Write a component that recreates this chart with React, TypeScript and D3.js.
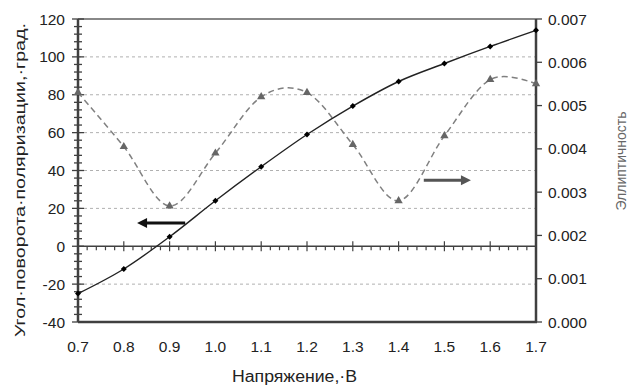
import { useEffect, useRef } from 'react';
import * as d3 from 'd3';

// напряжение, В
const voltage = [0.7, 0.8, 0.9, 1.0, 1.1, 1.2, 1.3, 1.4, 1.5, 1.6, 1.7];
// угол поворота поляризации, град.
const rotation = [-25, -12, 5, 24, 42, 59, 74, 87, 96.5, 105.5, 114];
// эллиптичность
const ellipticity = [0.0053, 0.00405, 0.00268, 0.0039, 0.0052, 0.0053, 0.0041, 0.0028, 0.0043, 0.0056, 0.0055];

const leftTicks = [-40, -20, 0, 20, 40, 60, 80, 100, 120];
const rightTicks = [0, 0.001, 0.002, 0.003, 0.004, 0.005, 0.006, 0.007];
const gridValues = [100, 80, 60, 40, 20, -20];

// arrows: [x from, x to, y on left scale]
const leftArrow = [0.934, 0.829, 12.3];
const rightArrow = [1.455, 1.558, 34.8];

const W = 631;
const H = 387;

function App() {
    const svgRef = useRef<SVGSVGElement>(null);

    useEffect(() => {
        const svg = d3.select(svgRef.current);
        svg.selectAll('*').remove();

        const plot = { left: 78, right: 536, top: 19, bottom: 322 };
        const axisColor = '#404040';
        const font = 'Liberation Sans, Arial, sans-serif';
        const tickSize = 15.5;

        const x = d3.scaleLinear().domain([0.7, 1.7]).range([plot.left, plot.right]);
        const yL = d3.scaleLinear().domain([-40, 120]).range([plot.bottom, plot.top]);
        const yR = d3.scaleLinear().domain([0, 0.007]).range([plot.bottom, plot.top]);

        // grid
        svg.append('g').selectAll('line')
            .data(gridValues)
            .join('line')
            .attr('x1', plot.left).attr('x2', plot.right)
            .attr('y1', d => yL(d)).attr('y2', d => yL(d))
            .attr('stroke', '#b0b0b0')
            .attr('stroke-width', 1)
            .attr('stroke-dasharray', '3,3');

        // frame: top, right, bottom
        svg.append('line')
            .attr('x1', plot.left).attr('x2', plot.right)
            .attr('y1', plot.top).attr('y2', plot.top)
            .attr('stroke', '#606060').attr('stroke-width', 1.5);
        svg.append('line')
            .attr('x1', plot.left).attr('x2', plot.right + 1)
            .attr('y1', plot.bottom).attr('y2', plot.bottom)
            .attr('stroke', axisColor).attr('stroke-width', 2.5);
        svg.append('line')
            .attr('x1', plot.right).attr('x2', plot.right)
            .attr('y1', plot.top).attr('y2', plot.bottom)
            .attr('stroke', axisColor).attr('stroke-width', 2.5);

        // left axis with crossing ticks
        svg.append('line')
            .attr('x1', plot.left).attr('x2', plot.left)
            .attr('y1', plot.top).attr('y2', plot.bottom)
            .attr('stroke', axisColor).attr('stroke-width', 2.5);
        const minorLeft = d3.range(-40, 120.001, 4);
        svg.append('g').selectAll('line')
            .data(minorLeft)
            .join('line')
            .attr('x1', d => plot.left - (d % 20 === 0 ? 6 : 4))
            .attr('x2', d => plot.left + (d % 20 === 0 ? 6 : 4))
            .attr('y1', d => yL(d)).attr('y2', d => yL(d))
            .attr('stroke', axisColor).attr('stroke-width', 1.3);

        svg.append('g').selectAll('text')
            .data(leftTicks)
            .join('text')
            .attr('x', plot.left - 13)
            .attr('y', d => yL(d) + 5.5)
            .attr('text-anchor', 'end')
            .attr('font-family', font)
            .attr('font-size', tickSize)
            .attr('fill', '#222')
            .text(d => String(d));

        // right axis ticks and labels
        svg.append('g').selectAll('line')
            .data(rightTicks)
            .join('line')
            .attr('x1', plot.right).attr('x2', plot.right + 6)
            .attr('y1', d => yR(d)).attr('y2', d => yR(d))
            .attr('stroke', axisColor).attr('stroke-width', 1.3);
        svg.append('g').selectAll('text')
            .data(rightTicks)
            .join('text')
            .attr('x', plot.right + 12)
            .attr('y', d => yR(d) + 5.5)
            .attr('font-family', font)
            .attr('font-size', tickSize)
            .attr('fill', '#222')
            .text(d => d3.format('.3f')(d));

        // horizontal axis at zero
        svg.append('line')
            .attr('x1', plot.left).attr('x2', plot.right)
            .attr('y1', yL(0)).attr('y2', yL(0))
            .attr('stroke', axisColor).attr('stroke-width', 1.5);
        const minorX = d3.range(0, 51).map(i => 0.7 + i * 0.02);
        svg.append('g').selectAll('line')
            .data(minorX)
            .join('line')
            .attr('x1', d => x(d)).attr('x2', d => x(d))
            .attr('y1', (d, i) => yL(0) - (i % 5 === 0 ? 5 : 0))
            .attr('y2', (d, i) => yL(0) + (i % 5 === 0 ? 5 : 4))
            .attr('stroke', axisColor).attr('stroke-width', 1.2);

        svg.append('g').selectAll('text')
            .data(voltage)
            .join('text')
            .attr('x', d => x(d))
            .attr('y', plot.bottom + 30)
            .attr('text-anchor', 'middle')
            .attr('font-family', font)
            .attr('font-size', tickSize)
            .attr('fill', '#222')
            .text(d => d3.format('.1f')(d));

        // titles
        svg.append('text')
            .attr('x', 232).attr('y', 382)
            .attr('font-family', font)
            .attr('font-size', 16)
            .attr('fill', '#222')
            .attr('textLength', 125)
            .attr('lengthAdjust', 'spacingAndGlyphs')
            .text('Напряжение,·В');
        svg.append('text')
            .attr('transform', 'translate(25,180) rotate(-90)')
            .attr('text-anchor', 'middle')
            .attr('font-family', font)
            .attr('font-size', 15.5)
            .attr('fill', '#222')
            .attr('textLength', 314)
            .attr('lengthAdjust', 'spacingAndGlyphs')
            .text('Угол·поворота·поляризации,·град.');
        svg.append('text')
            .attr('transform', 'translate(626,161) rotate(-90)')
            .attr('text-anchor', 'middle')
            .attr('font-family', font)
            .attr('font-size', 14)
            .attr('fill', '#666')
            .text('Эллиптичность');

        // ellipticity series (dashed gray)
        const lineR = d3.line<number>()
            .x((d, i) => x(voltage[i]))
            .y(d => yR(d))
            .curve(d3.curveCatmullRom.alpha(0));
        svg.append('path')
            .attr('d', lineR(ellipticity))
            .attr('fill', 'none')
            .attr('stroke', '#808080')
            .attr('stroke-width', 1.5)
            .attr('stroke-dasharray', '6,4');
        const tri = d3.symbol().type(d3.symbolTriangle).size(30);
        svg.append('g').selectAll('path')
            .data(ellipticity)
            .join('path')
            .attr('d', tri)
            .attr('transform', (d, i) => `translate(${x(voltage[i])},${yR(d)})`)
            .attr('fill', '#666');

        // rotation series (solid black)
        const lineL = d3.line<number>()
            .x((d, i) => x(voltage[i]))
            .y(d => yL(d))
            .curve(d3.curveCatmullRom.alpha(0));
        svg.append('path')
            .attr('d', lineL(rotation))
            .attr('fill', 'none')
            .attr('stroke', '#222')
            .attr('stroke-width', 1.4);
        const dia = d3.symbol().type(d3.symbolSquare).size(18);
        svg.append('g').selectAll('path')
            .data(rotation)
            .join('path')
            .attr('d', dia)
            .attr('transform', (d, i) => `translate(${x(voltage[i])},${yL(d)}) rotate(45)`)
            .attr('fill', '#000');

        // arrows
        const drawArrow = (a: number[], color: string) => {
            const x1 = x(a[0]);
            const x2 = x(a[1]);
            const y = yL(a[2]);
            const dir = Math.sign(x2 - x1);
            svg.append('line')
                .attr('x1', x1).attr('x2', x2 - dir * 8)
                .attr('y1', y).attr('y2', y)
                .attr('stroke', color).attr('stroke-width', 3);
            svg.append('path')
                .attr('d', `M${x2},${y} L${x2 - dir * 10},${y - 5} L${x2 - dir * 10},${y + 5} Z`)
                .attr('fill', color);
        };
        drawArrow(leftArrow, '#111');
        drawArrow(rightArrow, '#555');
    }, []);

    return (
        <svg ref={svgRef} width={W} height={H}
            style={{ position: 'fixed', left: 0, top: 0, background: '#fff' }} />
    );
}

export default App;
